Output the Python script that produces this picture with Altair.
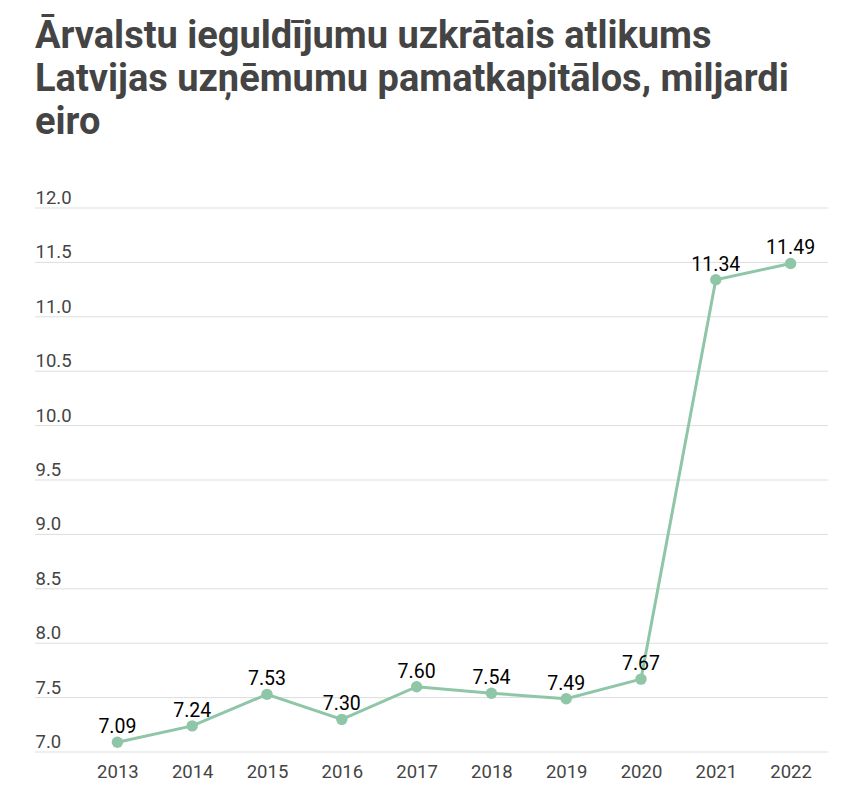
import altair as alt
import pandas as pd

years = ["2013", "2014", "2015", "2016", "2017", "2018", "2019", "2020", "2021", "2022"]
values = [7.09, 7.24, 7.53, 7.30, 7.60, 7.54, 7.49, 7.67, 11.34, 11.49]
y_ticks = [7.0, 7.5, 8.0, 8.5, 9.0, 9.5, 10.0, 10.5, 11.0, 11.5, 12.0]
title_lines = [
    "Ārvalstu ieguldījumu uzkrātais atlikums",
    "Latvijas uzņēmumu pamatkapitālos, miljardi",
    "eiro",
]

df = pd.DataFrame({"year": years, "value": values})
df["label"] = [f"{v:.2f}" for v in values]
grid_df = pd.DataFrame({"tick": y_ticks})

W, H = 748, 544
color = "#8ec6a7"

x_enc = alt.X("year:O", scale=alt.Scale(type="point", padding=0.5),
              axis=alt.Axis(title=None, domain=False, ticks=False, labelAngle=0,
                            labelFont="Roboto", labelFontSize=18.5, labelColor="#444444",
                            labelPadding=10))
y_scale = alt.Scale(domain=[7, 12], nice=False, zero=False)

grid = alt.Chart(grid_df).mark_rule(color="#dddddd", strokeWidth=1).encode(
    y=alt.Y("tick:Q", scale=y_scale,
            axis=alt.Axis(title=None, domain=False, ticks=False, grid=False,
                          values=y_ticks, format=".1f", labelAlign="left",
                          labelBaseline="alphabetic", labelOffset=-4.5, labelPadding=45,
                          labelFont="Roboto", labelFontSize=18.5, labelColor="#444444")),
    x=alt.value(-45),
    x2=alt.value(W),
)

line = alt.Chart(df).mark_line(color=color, strokeWidth=3).encode(
    x=x_enc, y=alt.Y("value:Q", scale=y_scale)
)
points = alt.Chart(df).mark_circle(color=color, size=130, opacity=1).encode(
    x=x_enc, y=alt.Y("value:Q", scale=y_scale)
)
labels = alt.Chart(df).mark_text(font="Roboto", fontSize=19.5, color="#000000",
                                 baseline="alphabetic", dy=-9).encode(
    x=x_enc, y=alt.Y("value:Q", scale=y_scale), text="label:N"
)

chart = alt.layer(grid, line, points, labels).properties(
    width=W, height=H,
    title=alt.TitleParams(title_lines, anchor="start", frame="group", dx=-45,
                          font="Roboto", fontSize=38, fontWeight="bold",
                          color="#444444", lineHeight=43, offset=47),
    autosize=alt.AutoSizeParams(type="none"),
    padding={"left": 72, "top": 200, "right": 26, "bottom": 31},
).configure_view(stroke=None)

chart.save("out.html", embed_options={"renderer": "svg", "actions": False})
